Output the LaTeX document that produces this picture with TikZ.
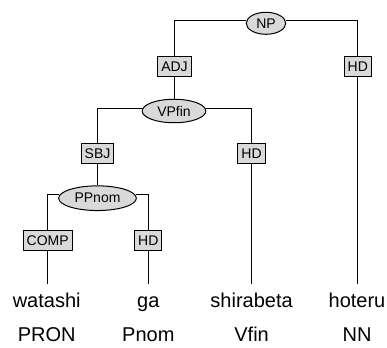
\documentclass[tikz,border=0pt]{standalone}
\usepackage{fontspec}
\setmainfont{Liberation Sans}
\usetikzlibrary{shapes.geometric}
\definecolor{boxgray}{RGB}{217,217,217}
\begin{document}
\begin{tikzpicture}[x=1pt,y=1pt,
  lbl/.style={draw, fill=boxgray, line width=1pt, font=\fontsize{14}{16}\selectfont,
    text height=10pt, text depth=0pt, inner xsep=3.5pt, inner ysep=4.8pt},
  cat/.style={ellipse, draw, fill=boxgray, line width=1pt, font=\fontsize{14}{16}\selectfont,
    inner sep=0pt},
  word/.style={font=\fontsize{20}{24}\selectfont, anchor=base, inner sep=0pt},
  edge/.style={line width=1pt}]
\useasboundingbox (0,0) rectangle (387,-347);
% nodes
\node[cat, minimum width=39.5pt, minimum height=22pt] (NP) at (266,-23.3) {NP};
\node[lbl] (ADJ) at (174.5,-66.3) {ADJ};
\node[lbl] (HDa) at (357.8,-66.3) {HD};
\node[cat, minimum width=63.7pt, minimum height=23.5pt] (VP) at (174,-111) {VPfin};
\node[lbl] (SBJ) at (97.5,-153.3) {SBJ};
\node[lbl] (HDb) at (251.6,-153.3) {HD};
\node[cat, minimum width=77.7pt, minimum height=24.7pt] (PP) at (97.5,-198.2) {PPnom};
\node[lbl] (COMP) at (47.7,-240.3) {COMP};
\node[lbl] (HDc) at (148.3,-240.3) {HD};
\coordinate (e1) at (47.7,-284);
\coordinate (e2) at (148.3,-284);
\coordinate (e3) at (251.6,-284);
\coordinate (e4) at (357.8,-284);
% words
\node[word] (w1) at (46.7,-307.3) {watashi};
\node[word] (w2) at (148.3,-307.3) {ga};
\node[word] (w3) at (251.6,-307.3) {shirabeta};
\node[word] (w4) at (357,-307.3) {hoteru};
\node[word] (p1) at (46.7,-341) {PRON};
\node[word] (p2) at (148.3,-341) {Pnom};
\node[word] (p3) at (251.6,-341) {Vfin};
\node[word] (p4) at (357,-341) {NN};
% connectors
\draw[edge] (NP.172) -| (ADJ.north);
\draw[edge] (NP.8) -| (HDa.north);
\draw[edge] (ADJ.south) -- (ADJ.south |- VP.north);
\draw[edge] (HDa.south) -- (e4);
\draw[edge] (VP.175) -| (SBJ.north);
\draw[edge] (VP.5) -| (HDb.north);
\draw[edge] (HDb.south) -- (e3);
\draw[edge] (SBJ.south) -- (PP.north);
\draw[edge] (PP.175) -| (COMP.north);
\draw[edge] (PP.5) -| (HDc.north);
\draw[edge] (COMP.south) -- (e1);
\draw[edge] (HDc.south) -- (e2);
\end{tikzpicture}
\end{document}
